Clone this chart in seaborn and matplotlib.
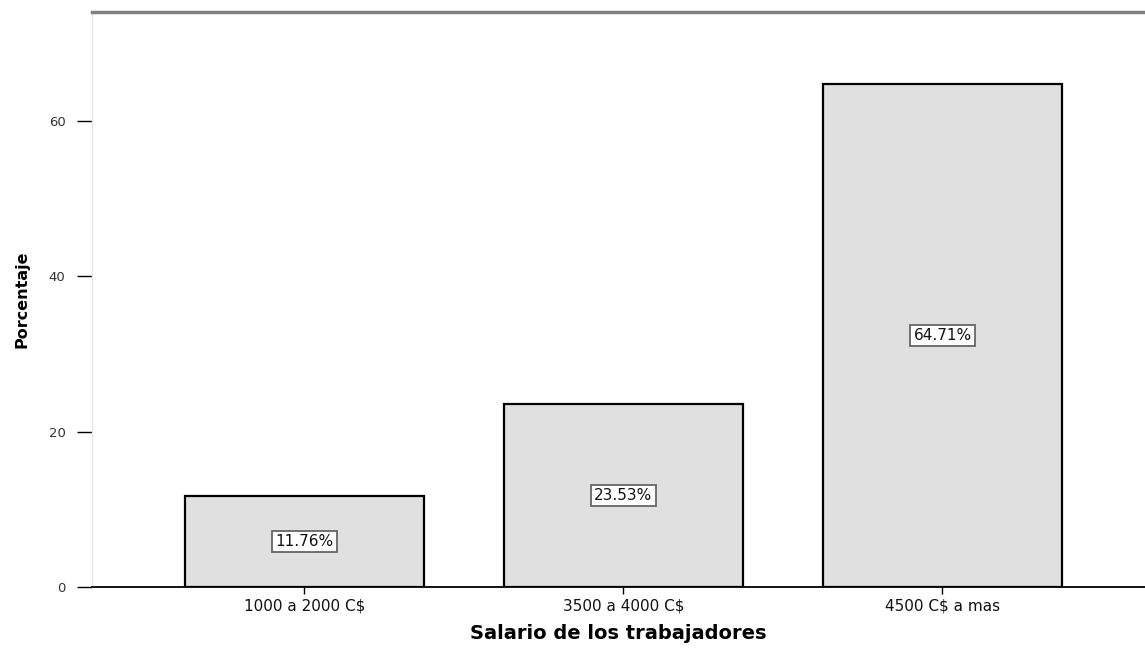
import matplotlib
matplotlib.use("Agg")
import matplotlib.pyplot as plt
import seaborn as sns
import pandas as pd

categories = ["1000 a 2000 C$", "3500 a 4000 C$", "4500 C$ a mas"]
percentages = [11.76, 23.53, 64.71]
yticks = [0, 20, 40, 60]

df = pd.DataFrame({"Salario": categories, "Porcentaje": percentages})

sns.set_style("white")
plt.rcParams["font.family"] = ["DejaVu Sans"]
FAM = "DejaVu Sans"

fig = plt.figure(figsize=(11.45, 6.51), dpi=100)
ax = fig.add_axes([92 / 1145, 64 / 651, 1 - 92 / 1145, (587 - 12) / 651])

sns.barplot(data=df, x="Salario", y="Porcentaje", color="#e0e0e0",
            edgecolor="black", linewidth=1.6, width=0.75, saturation=1, ax=ax)

ax.set_xlim(-0.666, 2.635)
ax.set_ylim(0, 74)
ax.set_yticks(yticks)
ax.set_yticklabels([str(v) for v in yticks], fontsize=9.5, color="#333333", family=FAM)
ax.set_xticks(range(len(categories)))
ax.set_xticklabels(categories, fontsize=11, color="#111111", family=FAM)
ax.tick_params(axis="y", length=11, width=1, color="black", direction="out", pad=8, left=True)
ax.tick_params(axis="x", length=5, width=1, color="black", direction="out", pad=3, bottom=True)

for c in ax.containers:
    ax.bar_label(c, labels=[f"{v:.2f}%" for v in percentages], label_type="center",
                 fontsize=11, color="#111111", family=FAM,
                 bbox=dict(boxstyle="square,pad=0.2", facecolor="white", edgecolor="#666666", linewidth=1.3))

ax.set_xlabel("Salario de los trabajadores", fontsize=14, fontweight="bold", labelpad=8,
              color="black", family=FAM)
ax.set_ylabel("Porcentaje", fontsize=11.5, fontweight="bold", labelpad=14,
              color="black", family=FAM)

ax.spines["right"].set_visible(False)
ax.spines["top"].set_color("#808080")
ax.spines["top"].set_linewidth(2.5)
ax.spines["left"].set_color("#e6e6e6")
ax.spines["left"].set_linewidth(1)
ax.spines["bottom"].set_color("black")
ax.spines["bottom"].set_linewidth(1.3)

fig.savefig("out.png", dpi=100)
